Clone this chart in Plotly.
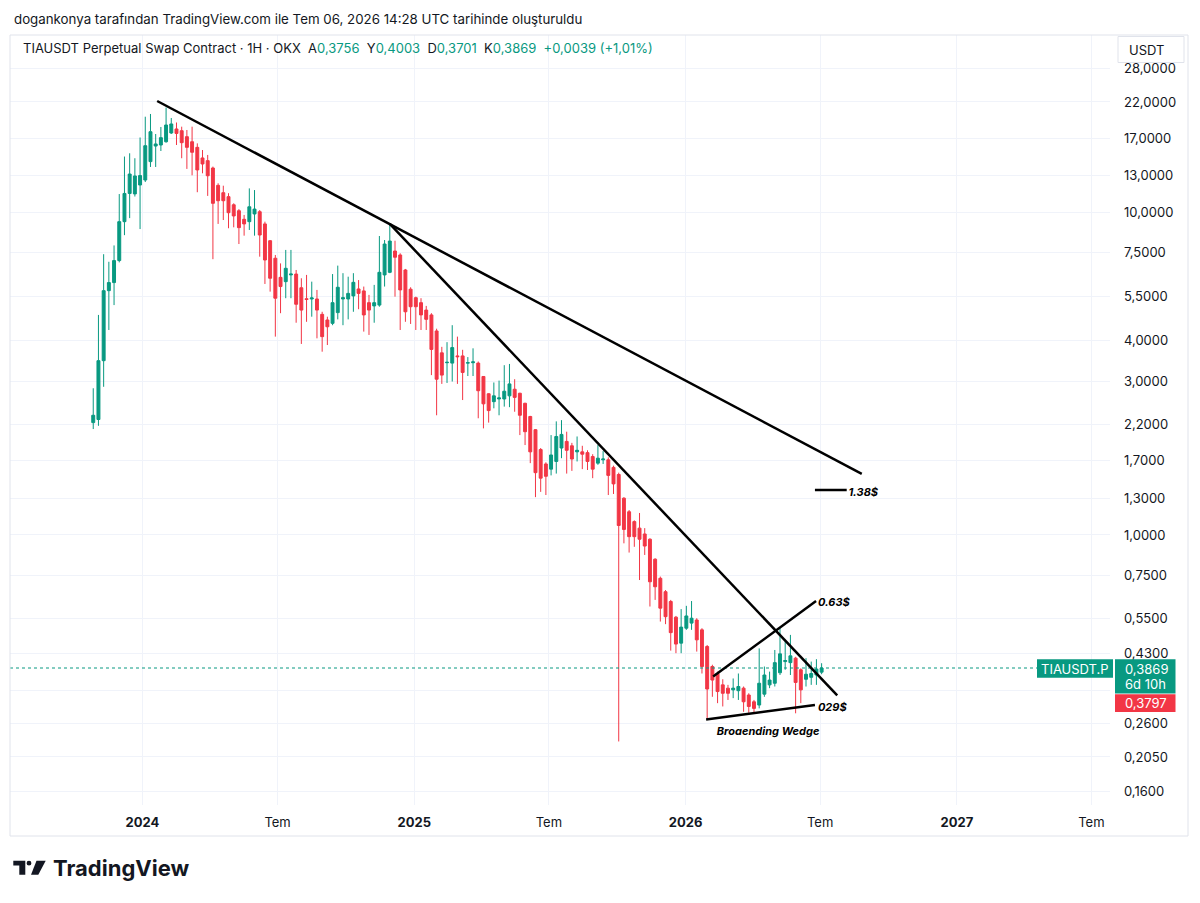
import math
import pandas as pd
import plotly.graph_objects as go

# ---------------- data ----------------
candle_dates = pd.date_range("2023-10-27", periods=141, freq="7D")

opens = [2.23, 2.28, 3.47, 5.72, 6.06, 7.09, 9.36, 11.45, 11.41, 12.16,
         12.6, 14.37, 16.06, 16.18, 16.56, 17.63, 18.14, 17.92, 17.17, 16.56,
         15.91, 14.75, 14.47, 13.73, 12.13, 11.51, 11.19, 10.56, 10.12, 9.52,
         9.36, 9.89, 10.05, 9.21, 8.17, 7.21, 6.29, 6.1, 6.4, 6.44,
         5.84, 5.4, 5.39, 5.39, 4.83, 4.64, 4.53, 4.89, 5.39, 5.39,
         5.51, 5.79, 5.71, 5.25, 5.13, 5.16, 6.4, 6.52, 7.59, 7.38,
         6.63, 5.78, 5.44, 5.25, 4.98, 4.81, 4.29, 3.67, 3.42, 3.41,
         3.59, 3.59, 3.41, 3.42, 3.41, 3.1, 2.74, 2.59, 2.64, 2.64,
         2.7, 2.83, 2.75, 2.56, 2.33, 2.12, 1.84, 1.66, 1.6, 1.69,
         1.86, 1.95, 1.89, 1.81, 1.81, 1.8, 1.75, 1.67, 1.71, 1.71,
         1.62, 1.54, 1.3, 1.18, 1.1, 1.05, 1.007, 0.97, 0.841, 0.734,
         0.667, 0.622, 0.556, 0.462, 0.514, 0.533, 0.545, 0.508, 0.451, 0.391,
         0.372, 0.343, 0.335, 0.331, 0.329, 0.335, 0.319, 0.304, 0.297, 0.321,
         0.343, 0.347, 0.374, 0.405, 0.402, 0.415, 0.382, 0.357, 0.362, 0.368,
         0.3756]
highs = [2.85, 4.81, 7.42, 7.03, 7.9, 11.4, 14.9, 15.25, 14.72, 17.07,
         19.8, 20.19, 17.5, 18.4, 21.14, 19.62, 19.0, 18.44, 18.01, 18.44,
         16.37, 15.61, 15.07, 13.87, 12.31, 12.1, 11.47, 10.67, 10.24, 9.82,
         11.87, 11.73, 10.17, 9.36, 8.21, 7.38, 6.95, 7.65, 7.65, 6.63,
         6.25, 6.4, 6.1, 5.75, 4.92, 4.75, 6.44, 6.84, 6.48, 6.32,
         6.48, 6.17, 5.89, 5.55, 5.96, 8.45, 8.21, 9.25, 8.17, 7.47,
         6.68, 5.86, 5.48, 5.42, 5.13, 4.87, 4.36, 3.83, 3.96, 4.47,
         4.12, 3.75, 3.56, 3.79, 3.45, 3.11, 2.75, 2.97, 3.01, 3.36,
         3.39, 3.04, 2.76, 2.57, 2.34, 2.13, 1.86, 1.68, 2.04, 2.25,
         2.27, 2.09, 1.93, 2.02, 1.89, 1.83, 1.78, 1.9, 1.82, 1.74,
         1.64, 1.56, 1.31, 1.195, 1.11, 1.17, 1.05, 0.977, 0.847, 0.743,
         0.675, 0.629, 0.561, 0.589, 0.603, 0.624, 0.552, 0.514, 0.456, 0.396,
         0.377, 0.357, 0.343, 0.359, 0.372, 0.339, 0.323, 0.308, 0.445, 0.391,
         0.377, 0.44, 0.514, 0.473, 0.49, 0.419, 0.386, 0.415, 0.405, 0.412,
         0.4003]
lows = [2.13, 2.18, 2.88, 4.32, 5.16, 7.0, 8.5, 9.6, 11.2, 8.88,
        12.42, 13.83, 13.83, 15.5, 16.45, 17.5, 16.18, 14.72, 13.64, 13.03,
        11.55, 13.22, 11.25, 7.16, 9.21, 9.47, 8.93, 8.99, 7.98, 8.47,
        8.82, 8.47, 7.29, 6.0, 5.68, 4.12, 4.87, 5.42, 5.42, 4.55,
        3.91, 4.58, 4.75, 4.07, 3.7, 3.88, 4.47, 4.66, 4.47, 4.66,
        4.92, 5.01, 4.27, 4.17, 4.55, 5.1, 5.89, 6.48, 5.48, 4.32,
        4.58, 4.51, 4.32, 4.32, 4.32, 3.13, 2.35, 2.94, 2.96, 2.99,
        2.94, 2.62, 3.11, 3.11, 2.3, 2.14, 2.23, 2.47, 2.35, 2.5,
        2.49, 2.41, 2.04, 1.9, 1.67, 1.31, 1.36, 1.33, 1.53, 1.55,
        1.73, 1.55, 1.58, 1.69, 1.6, 1.59, 1.5, 1.65, 1.66, 1.33,
        1.34, 0.229, 0.942, 0.882, 0.919, 0.725, 0.867, 0.6, 0.629, 0.539,
        0.529, 0.438, 0.43, 0.43, 0.508, 0.508, 0.435, 0.372, 0.27, 0.315,
        0.301, 0.294, 0.308, 0.312, 0.308, 0.283, 0.281, 0.279, 0.29, 0.315,
        0.335, 0.339, 0.368, 0.382, 0.368, 0.28, 0.301, 0.339, 0.343, 0.343,
        0.3701]
closes = [2.35, 3.47, 5.72, 6.06, 7.09, 9.36, 11.45, 13.15, 12.97, 13.01,
          16.1, 17.79, 16.3, 17.05, 18.66, 18.8, 17.57, 16.45, 15.91, 15.36,
          13.54, 14.13, 12.99, 10.67, 10.87, 10.87, 9.98, 9.75, 8.97, 9.21,
          10.41, 10.24, 8.51, 7.12, 6.25, 5.42, 5.89, 6.71, 6.44, 5.19,
          4.98, 5.37, 5.43, 4.98, 4.12, 4.42, 5.25, 5.86, 5.44, 5.61,
          6.07, 5.61, 4.81, 4.98, 5.25, 6.52, 7.98, 8.15, 7.26, 5.75,
          4.92, 5.1, 5.1, 4.81, 4.66, 3.76, 3.04, 3.13, 3.43, 3.81,
          3.57, 3.19, 3.42, 3.44, 2.8, 2.55, 2.43, 2.7, 2.66, 2.79,
          2.94, 2.67, 2.35, 2.09, 1.81, 1.56, 1.5, 1.52, 1.77, 2.02,
          2.05, 1.83, 1.72, 1.83, 1.78, 1.69, 1.6, 1.73, 1.72, 1.53,
          1.44, 1.07, 1.04, 0.988, 0.988, 0.97, 0.924, 0.716, 0.691, 0.593,
          0.558, 0.498, 0.459, 0.518, 0.561, 0.552, 0.473, 0.391, 0.333, 0.355,
          0.327, 0.323, 0.323, 0.335, 0.339, 0.304, 0.294, 0.29, 0.347, 0.368,
          0.355, 0.402, 0.428, 0.408, 0.422, 0.349, 0.331, 0.37, 0.372, 0.384,
          0.3869]

price_ticks = [28, 22, 17, 13, 10, 7.5, 5.5, 4, 3, 2.2, 1.7, 1.3, 1.0,
               0.75, 0.55, 0.43, 0.33, 0.26, 0.205, 0.16]
hidden_price_ticks = [0.33]
time_ticks = ["2024-01-01", "2024-07-01", "2025-01-01", "2025-07-01",
              "2026-01-01", "2026-07-01", "2027-01-01", "2027-07-01"]
time_labels = ["2024", "Tem", "2025", "Tem", "2026", "Tem", "2027", "Tem"]
time_is_year = [True, False, True, False, True, False, True, False]
x_range = ["2023-07-07", "2027-07-26"]
y_range = [0.1455, 35.48]

# drawn trend lines (date, price pairs)
long_line_dates = ["2024-01-21", "2026-08-26"]
long_line_prices = [22.15, 1.546]
mid_line_dates = ["2024-11-29", "2026-07-24"]
mid_line_prices = [9.21, 0.318]
wedge_up_dates = ["2026-02-07", "2026-06-25 12:00"]
wedge_up_prices = [0.364, 0.624]
wedge_low_dates = ["2026-01-28 14:00", "2026-06-24"]
wedge_low_prices = [0.268, 0.297]
target_dates = ["2026-06-24", "2026-08-05 18:00"]
target_prices = [1.379, 1.379]

label_texts = ["1.38$", "0.63$", "029$", "Broaending Wedge"]
label_dates = ["2026-08-08", "2026-06-28", "2026-06-28", "2026-04-22"]
label_prices = [1.35, 0.614, 0.290, 0.245]
label_pos = ["middle right", "middle right", "middle right", "middle center"]

# ---------------- styling ----------------
GREEN = "#089981"
RED = "#f23645"
TXT = "#131722"
GRID = "#f0f3fa"
FONT = "Inter"

# page body has an 8px margin: the figure is shrunk so the page is 1200x903
OFF = 8
W, H = 1200 - OFF, 903 - OFF
PL, PR, PT, PB = 10, 1110, 35, 805   # plot area in page pixels


def px(x):
    return (x - PL) / (PR - PL)


def py(y):
    return (PB - y) / (PB - PT)


fig = go.Figure()

fig.add_trace(go.Candlestick(
    x=candle_dates, open=opens, high=highs, low=lows, close=closes,
    increasing=dict(line=dict(color=GREEN, width=1), fillcolor=GREEN),
    decreasing=dict(line=dict(color=RED, width=1), fillcolor=RED),
    whiskerwidth=0, hoverinfo="skip", showlegend=False,
))

# last price dotted line
fig.add_trace(go.Scatter(
    x=x_range, y=[closes[-1], closes[-1]], mode="lines",
    line=dict(color=GREEN, width=1, dash="dot"), hoverinfo="skip", showlegend=False,
))

for d, p in [(long_line_dates, long_line_prices), (mid_line_dates, mid_line_prices),
             (wedge_up_dates, wedge_up_prices), (wedge_low_dates, wedge_low_prices),
             (target_dates, target_prices)]:
    fig.add_trace(go.Scatter(x=d, y=p, mode="lines", line=dict(color="#000000", width=2.5),
                             hoverinfo="skip", showlegend=False))

for t, d, p, pos in zip(label_texts, label_dates, label_prices, label_pos):
    fig.add_trace(go.Scatter(
        x=[d], y=[p], mode="text", text=[t], textposition=pos,
        textfont=dict(family=FONT, size=11, color="#000000", weight="bold", style="italic"),
        hoverinfo="skip", showlegend=False,
    ))

y_text = ["" if v in hidden_price_ticks else f"{v:.4f}".replace(".", ",") for v in price_ticks]
x_text = [f"<b>{l}</b>" if b else l for l, b in zip(time_labels, time_is_year)]

shapes = []
annotations = []


def note(text, x, y, size=13, color=TXT, xanchor="left", **kw):
    annotations.append(dict(text=text, xref="paper", yref="paper", x=px(x), y=py(y),
                            xanchor=xanchor, yanchor="middle", showarrow=False,
                            font=dict(family=FONT, size=size, color=color), **kw))


def box(x0, y0, x1, y1, fill, line_color=None):
    shapes.append(dict(type="rect", xref="paper", yref="paper", x0=px(x0), x1=px(x1),
                       y0=py(y1), y1=py(y0),
                       line=dict(color=line_color or fill, width=1 if line_color else 0),
                       fillcolor=fill, layer="above"))


# outer frame
box(10, 35, 1188, 836, "rgba(0,0,0,0)", "#e0e3eb")
# USDT button
box(1118, 36.5, 1184, 62.5, "#ffffff", "#e0e3eb")
note("USDT", 1146, 49.5, xanchor="center")

# price labels on the right
box(1037, 659.3, 1113, 677.7, GREEN)
box(1115, 659.3, 1175.5, 693.5, GREEN)
box(1115, 694.3, 1175.5, 712, RED)
note("TIAUSDT.P", 1075, 668.5, color="#ffffff", xanchor="center")
note(f"{closes[-1]:.4f}".replace(".", ","), 1123, 668.5, color="#ffffff")
note("6d 10h", 1123, 684, color="#ffffff")
note("0,3797", 1123, 703, color="#ffffff")

# header texts
note("dogankonya tarafından TradingView.com ile Tem 06, 2026 14:28 UTC tarihinde oluşturuldu",
     12, 19, size=13.3)
g = lambda s: f"<span style='color:{GREEN}'>{s}</span>"
sp = "\u00a0 "
legend_text = ("TIAUSDT Perpetual Swap Contract · 1H · OKX" + sp +
               f"A{g('0,3756')}{sp}Y{g('0,4003')}{sp}D{g('0,3701')}{sp}K{g('0,3869')}{sp}"
               f"{g('+0,0039 (+1,01%)')}")
note(legend_text, 21, 48.5, size=13)

# TradingView logo
logo_col = "#131722"
shapes.append(dict(type="path", xref="paper", yref="paper", fillcolor=logo_col, line=dict(width=0),
                   path=(f"M {px(13.3)} {py(860.7)} L {px(25.3)} {py(860.7)} L {px(25.3)} {py(874.7)} "
                         f"L {px(19.3)} {py(874.7)} L {px(19.3)} {py(865.5)} L {px(13.3)} {py(865.5)} Z")))
shapes.append(dict(type="circle", xref="paper", yref="paper", fillcolor=logo_col, line=dict(width=0),
                   x0=px(26.6), x1=px(31.4), y0=py(865.6), y1=py(860.8)))
shapes.append(dict(type="path", xref="paper", yref="paper", fillcolor=logo_col, line=dict(width=0),
                   path=(f"M {px(36.5)} {py(860.7)} L {px(45.7)} {py(860.7)} L {px(38.3)} {py(874.7)} "
                         f"L {px(31.0)} {py(874.7)} Z")))
note("<b>TradingView</b>", 51, 867.5, size=22)

fig.update_layout(
    width=W, height=H,
    margin=dict(l=PL - OFF, r=(W + OFF) - PR, t=PT - OFF, b=(H + OFF) - PB, pad=0),
    paper_bgcolor="#ffffff", plot_bgcolor="#ffffff",
    showlegend=False, hovermode=False,
    boxgap=0.25, boxgroupgap=0.25,
    font=dict(family=FONT, color=TXT, size=13),
    shapes=shapes, annotations=annotations,
    xaxis=dict(type="date", range=x_range, tickmode="array", tickvals=time_ticks, ticktext=x_text,
               showgrid=True, gridcolor=GRID, gridwidth=1, zeroline=False, showline=False,
               ticks="", tickfont=dict(family=FONT, size=13, color=TXT), ticklabelstandoff=8,
               rangeslider=dict(visible=False), fixedrange=True),
    yaxis=dict(type="log", side="right", range=[math.log10(y_range[0]), math.log10(y_range[1])],
               tickmode="array", tickvals=price_ticks, ticktext=y_text,
               showgrid=True, gridcolor=GRID, gridwidth=1, zeroline=False, showline=False,
               ticks="", tickfont=dict(family=FONT, size=13, color=TXT), ticklabelstandoff=13,
               fixedrange=True),
)

fig.write_html("out.html")
